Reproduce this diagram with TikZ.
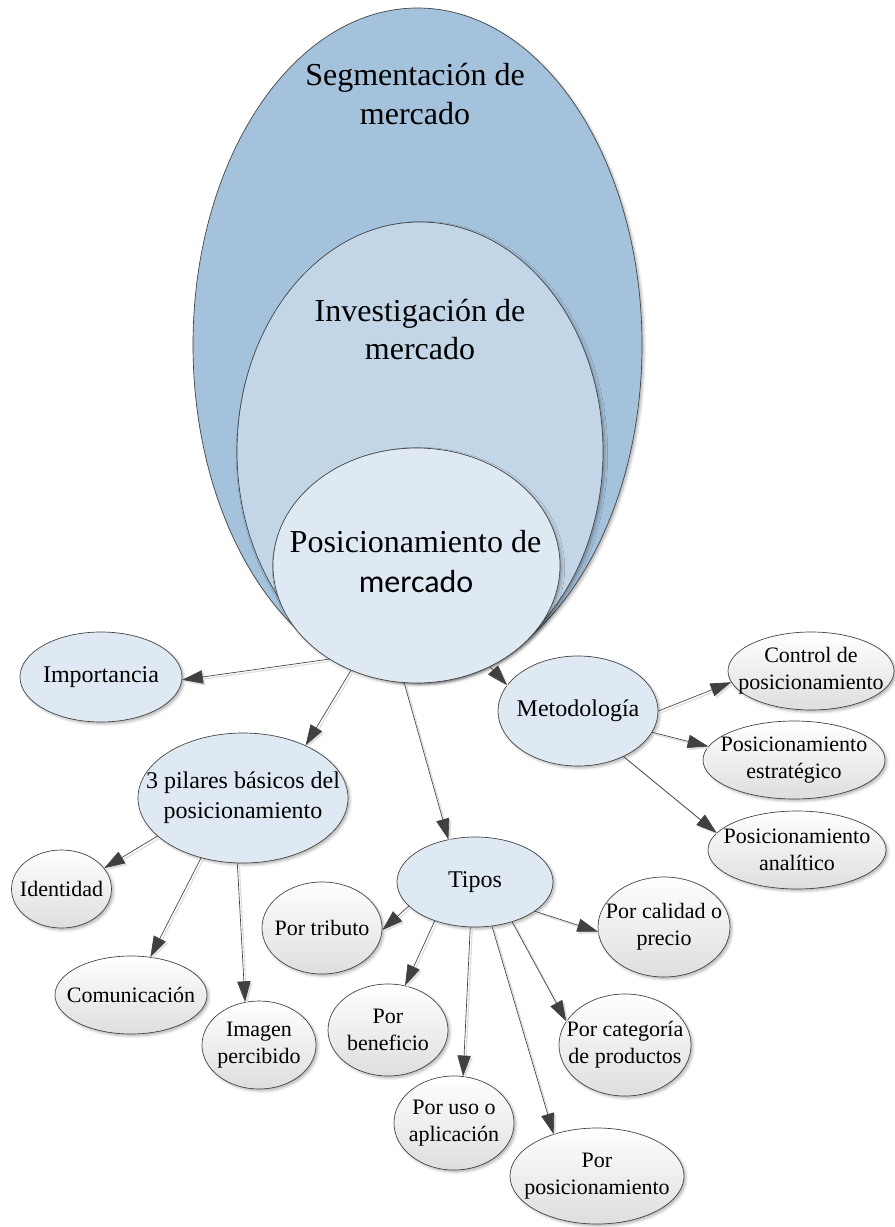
\documentclass[tikz,border=0pt]{standalone}
\usepackage{fontspec}
\setmainfont{Liberation Serif}
\newfontfamily\calfont{Carlito}
\usetikzlibrary{arrows.meta,shapes.geometric,shadows.blur}
\definecolor{segc}{HTML}{A5C2DC}
\definecolor{invc}{HTML}{C2D6E8}
\definecolor{posc}{HTML}{DFE9F3}
\definecolor{linec}{HTML}{404040}
\begin{document}
\begin{tikzpicture}[x=0.75pt,y=-0.75pt,
 shad/.style={blur shadow={shadow xshift=1.5pt,shadow yshift=-1.5pt,shadow blur radius=2pt,shadow opacity=30}},
 ell/.style={ellipse, draw=black!75, line width=0.5pt, inner sep=0pt, shad},
 bluen/.style={ell, fill=posc},
 grayn/.style={ell, top color=white, bottom color=black!13},
 medt/.style={font=\fontsize{18}{22.5}\selectfont, align=center, inner sep=0pt},
 smallt/.style={font=\fontsize{16.5}{20}\selectfont, align=center, inner sep=0pt},
 bigt/.style={font=\fontsize{24}{30}\selectfont, anchor=base, inner sep=0pt},
 conn/.style={draw=linec, line width=0.5pt, -{Triangle[length=15.5pt,width=10pt]},
   preaction={draw=black!12, line width=1pt, transform canvas={shift={(1.5pt,-1.5pt)}}}},
]
\useasboundingbox (0,0) rectangle (894,1227);

% nested ellipses
\node[ell, fill=segc, minimum width=336.75pt, minimum height=505.5pt] (seg) at (417.5,345) {};
\node[ell, fill=invc, minimum width=274.5pt, minimum height=344.25pt] (inv) at (420,451.5) {};
\node[ell, fill=posc, minimum width=215.25pt, minimum height=176.25pt] (pos) at (416.5,565.5) {};
\node[bigt] (seg-t1) at (415,86) {Segmentación de};
\node[bigt] (seg-t2) at (415,125) {mercado};
\node[bigt] (inv-t1) at (420,321) {Investigación de};
\node[bigt] (inv-t2) at (420,359) {mercado};
\node[bigt] (pos-t1) at (415.5,552) {Posicionamiento de};
\node[bigt] (pos-t2) at (416,592) {\calfont mercado};

% level 1 nodes
\node[bluen, minimum width=121.5pt, minimum height=67.5pt] (imp) at (101,677) {};
\node[medt] (imp-t) at (imp) {Importancia};
\node[bluen, minimum width=157.5pt, minimum height=97.5pt] (pil) at (243,798) {};
\node[medt] (pil-t) at (pil) {3 pilares básicos del\\posicionamiento};
\node[bluen, minimum width=117pt, minimum height=67.5pt] (tipos) at (475,882) {};
\node[medt] (tipos-t) at (tipos) {Tipos};
\node[bluen, minimum width=120pt, minimum height=82.5pt] (met) at (578,711) {};
\node[medt] (met-t) at (met) {Metodología};

% leaves
\node[grayn, minimum width=124.5pt, minimum height=58.5pt] (ctrl) at (811,671) {};
\node[smallt] (ctrl-t) at (ctrl) {Control de\\posicionamiento};
\node[grayn, minimum width=136.5pt, minimum height=58.5pt] (estr) at (794,760) {};
\node[smallt] (estr-t) at (estr) {Posicionamiento\\estratégico};
\node[grayn, minimum width=133.5pt, minimum height=58.5pt] (anal) at (797,850) {};
\node[smallt] (anal-t) at (anal) {Posicionamiento\\analítico};

\node[grayn, minimum width=75pt, minimum height=58.5pt] (ide) at (61.5,889) {};
\node[smallt] (ide-t) at (ide) {Identidad};
\node[grayn, minimum width=114pt, minimum height=58.5pt] (com) at (131,995) {};
\node[smallt] (com-t) at (com) {Comunicación};
\node[grayn, minimum width=85.5pt, minimum height=66pt] (img) at (259,1045) {};
\node[smallt] (img-t) at (img) {Imagen\\percibido};

\node[grayn, minimum width=90pt, minimum height=69pt] (trib) at (322,928) {};
\node[smallt] (trib-t) at (trib) {Por tributo};
\node[grayn, minimum width=90pt, minimum height=69pt] (bene) at (388,1030) {};
\node[smallt] (bene-t) at (bene) {Por\\beneficio};
\node[grayn, minimum width=90pt, minimum height=70.5pt] (uso) at (454,1123) {};
\node[smallt] (uso-t) at (uso) {Por uso o\\aplicación};
\node[grayn, minimum width=130.5pt, minimum height=72pt] (ppos) at (597,1176) {};
\node[smallt] (ppos-t) at (ppos) {Por\\posicionamiento};
\node[grayn, minimum width=99pt, minimum height=76.5pt] (cat) at (625,1045) {};
\node[smallt] (cat-t) at (cat) {Por categoría\\de productos};
\node[grayn, minimum width=99pt, minimum height=75pt] (cal) at (664,927) {};
\node[smallt] (cal-t) at (cal) {Por calidad o\\precio};

% connectors
\draw[conn] (pos.227) -- (imp.358);
\draw[conn] (pos.238) -- (pil.40);
\draw[conn] (pos.264) -- (tipos.122);
\draw[conn] (pos.306) -- (met.160);
\draw[conn] (met.0) -- (ctrl.188);
\draw[conn] (met.344) -- (estr.171);
\draw[conn] (met.315) -- (anal.168);
\draw[conn] (pil.204) -- (ide.26);
\draw[conn] (pil.235) -- (com.63);
\draw[conn] (pil.265) -- (img.108);
\draw[conn] (tipos.200) -- (trib.358);
\draw[conn] (tipos.224) -- (bene.69);
\draw[conn] (tipos.264) -- (uso.79);
\draw[conn] (tipos.291) -- (ppos.136);
\draw[conn] (tipos.313) -- (cat.158);
\draw[conn] (tipos.334) -- (cal.184);
\end{tikzpicture}
\end{document}
